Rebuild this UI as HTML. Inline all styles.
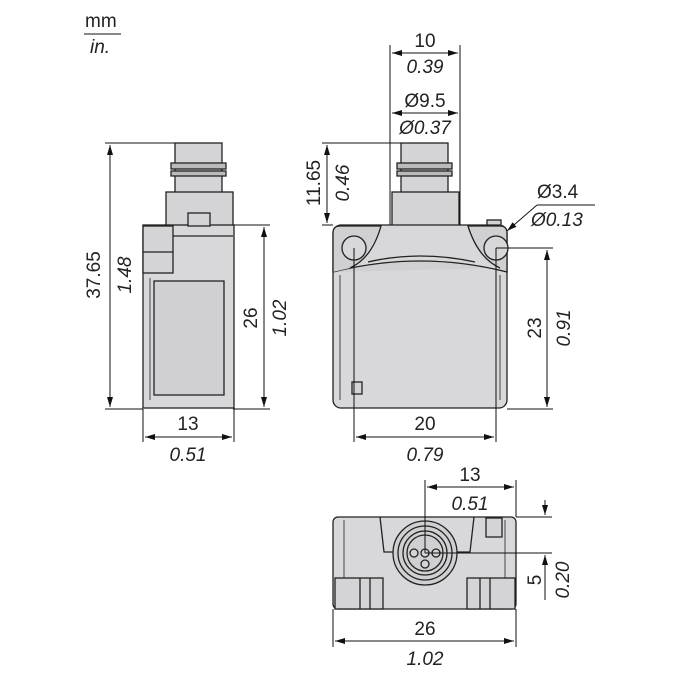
<!DOCTYPE html>
<html><head><style>body{margin:0;background:#fff}svg{display:block}text{font-family:"Liberation Sans",sans-serif;font-size:19px;fill:#222}.i{font-style:italic}</style></head><body>
<svg width="675" height="675" viewBox="0 0 675 675" xmlns="http://www.w3.org/2000/svg">
<defs>
<marker id="a" viewBox="0 0 10 6" refX="10" refY="3" markerWidth="10" markerHeight="6" orient="auto-start-reverse" markerUnits="userSpaceOnUse"><path d="M0,0L10,3L0,6z" fill="#111"/></marker>
</defs>
<g stroke="#111" stroke-width="1" fill="none">
<line x1="84" y1="34" x2="121" y2="34"/>
</g>
<text x="85" y="27">mm</text><text x="90" y="53" class="i">in.</text>

<g stroke="#222" stroke-width="1.3" fill="#d4d4d6">
<rect x="175" y="143" width="47" height="50"/>
<rect x="171" y="163" width="55" height="6" fill="#bbb"/>
<rect x="171" y="171" width="55" height="5" fill="#bbb"/>
<rect x="166" y="192" width="67" height="34"/>
<rect x="143" y="225" width="91" height="183" fill="#d8d8da"/>
<rect x="188" y="213" width="22" height="13"/>
<rect x="143" y="226" width="30" height="47"/>
<line x1="143" y1="252" x2="173" y2="252"/>
<rect x="154" y="281" width="70" height="114" fill="#d0d0d2"/>
<line x1="150" y1="278" x2="150" y2="400" stroke-width="0.8"/>
<line x1="173" y1="236" x2="233" y2="236"/>
</g>
<g stroke="#111" stroke-width="1" fill="none">
<line x1="105" y1="143" x2="175" y2="143"/>
<line x1="105" y1="409" x2="143" y2="409"/>
<line x1="110" y1="145" x2="110" y2="407" marker-start="url(#a)" marker-end="url(#a)"/>
<line x1="233" y1="225" x2="270" y2="225"/>
<line x1="233" y1="409" x2="270" y2="409"/>
<line x1="264" y1="227" x2="264" y2="407" marker-start="url(#a)" marker-end="url(#a)"/>
<line x1="143" y1="409" x2="143" y2="442"/>
<line x1="234" y1="409" x2="234" y2="442"/>
<line x1="145" y1="437" x2="232" y2="437" marker-start="url(#a)" marker-end="url(#a)"/>
</g>
<text transform="translate(100,275) rotate(-90)" text-anchor="middle">37.65</text>
<text transform="translate(131,275) rotate(-90)" text-anchor="middle" class="i">1.48</text>
<text transform="translate(257,318) rotate(-90)" text-anchor="middle">26</text>
<text transform="translate(286,318) rotate(-90)" text-anchor="middle" class="i">1.02</text>
<text x="188" y="430" text-anchor="middle">13</text>
<text x="188" y="461" text-anchor="middle" class="i">0.51</text>

<g stroke="#222" stroke-width="1.3" fill="#d4d4d6">
<rect x="401" y="143" width="47" height="50"/>
<rect x="397" y="163" width="55" height="6" fill="#bbb"/>
<rect x="397" y="171" width="55" height="5" fill="#bbb"/>
<rect x="392" y="192" width="67" height="34"/>
<rect x="487" y="220" width="14" height="7"/>
<rect x="333" y="225" width="174" height="183" rx="8" fill="#d8d8da"/>
<path d="M333,272 Q420,250 507,272 L507,233 Q507,226 500,226 L468,226 Q478,258 500,268" fill="#d0d0d2"/>
<path d="M333,272 L333,233 Q333,226 340,226 L381,226 Q372,258 350,268" fill="#d0d0d2"/>
<path d="M368,262 Q420,250 475,262" fill="none"/>
<circle cx="354" cy="248" r="12" fill="#d8d8da"/>
<circle cx="496" cy="248" r="12" fill="#d8d8da"/>
<line x1="340" y1="275" x2="340" y2="400" stroke-width="0.8"/>
<line x1="500" y1="275" x2="500" y2="400" stroke-width="0.8"/>
<rect x="352" y="382" width="10" height="12"/>
</g>
<g stroke="#111" stroke-width="1" fill="none">
<line x1="390" y1="45" x2="390" y2="225"/>
<line x1="460" y1="45" x2="460" y2="225"/>
<line x1="392" y1="53" x2="458" y2="53" marker-start="url(#a)" marker-end="url(#a)"/>
<line x1="392" y1="113" x2="458" y2="113" marker-start="url(#a)" marker-end="url(#a)"/>
<line x1="322" y1="143" x2="401" y2="143"/>
<line x1="322" y1="225" x2="333" y2="225"/>
<line x1="327" y1="145" x2="327" y2="223" marker-start="url(#a)" marker-end="url(#a)"/>
<line x1="507" y1="231" x2="537" y2="205" marker-start="url(#a)"/>
<line x1="537" y1="205" x2="595" y2="205"/>
<line x1="496" y1="248" x2="553" y2="248"/>
<line x1="507" y1="409" x2="553" y2="409"/>
<line x1="547" y1="250" x2="547" y2="407" marker-start="url(#a)" marker-end="url(#a)"/>
<line x1="354" y1="248" x2="354" y2="442"/>
<line x1="496" y1="248" x2="496" y2="442"/>
<line x1="356" y1="437" x2="494" y2="437" marker-start="url(#a)" marker-end="url(#a)"/>
</g>
<text x="425" y="47" text-anchor="middle">10</text>
<text x="425" y="73" text-anchor="middle" class="i">0.39</text>
<text x="425" y="107" text-anchor="middle">Ø9.5</text>
<text x="425" y="134" text-anchor="middle" class="i">Ø0.37</text>
<text transform="translate(320,183) rotate(-90)" text-anchor="middle">11.65</text>
<text transform="translate(349,183) rotate(-90)" text-anchor="middle" class="i">0.46</text>
<text x="537" y="198">Ø3.4</text>
<text x="531" y="226" class="i">Ø0.13</text>
<text transform="translate(541,328) rotate(-90)" text-anchor="middle">23</text>
<text transform="translate(570,328) rotate(-90)" text-anchor="middle" class="i">0.91</text>
<text x="425" y="430" text-anchor="middle">20</text>
<text x="425" y="461" text-anchor="middle" class="i">0.79</text>

<g stroke="#222" stroke-width="1.3" fill="#d4d4d6">
<rect x="333" y="517" width="183" height="92" rx="5" fill="#d8d8da"/>
<path d="M380,517 L384,552 L470,552 L474,517" fill="none"/>
<rect x="486" y="518" width="16" height="19"/>
<rect x="335" y="578" width="48" height="31"/>
<rect x="467" y="578" width="48" height="31"/>
<line x1="360" y1="578" x2="360" y2="609"/><line x1="370" y1="578" x2="370" y2="609"/>
<line x1="480" y1="578" x2="480" y2="609"/><line x1="490" y1="578" x2="490" y2="609"/>
<line x1="344" y1="520" x2="344" y2="578" stroke-width="0.8"/>
<line x1="505" y1="520" x2="505" y2="578" stroke-width="0.8"/>
<circle cx="425" cy="553" r="32" fill="#d0d0d2"/>
<circle cx="425" cy="553" r="27" fill="none"/>
<circle cx="425" cy="553" r="22" fill="none"/>
<circle cx="425" cy="553" r="18" fill="none"/>
<circle cx="425" cy="553" r="4"/>
<circle cx="414" cy="553" r="4"/>
<circle cx="436" cy="553" r="4"/>
<circle cx="425" cy="564" r="4"/>
</g>
<g stroke="#111" stroke-width="1" fill="none">
<line x1="425" y1="480" x2="425" y2="553"/>
<line x1="516" y1="480" x2="516" y2="517"/>
<line x1="427" y1="487" x2="514" y2="487" marker-start="url(#a)" marker-end="url(#a)"/>
<line x1="516" y1="517" x2="552" y2="517"/>
<line x1="425" y1="553" x2="552" y2="553"/>
<line x1="545" y1="500" x2="545" y2="515" marker-end="url(#a)"/>
<line x1="545" y1="600" x2="545" y2="555" marker-end="url(#a)"/>
<line x1="333" y1="609" x2="333" y2="647"/>
<line x1="516" y1="609" x2="516" y2="647"/>
<line x1="335" y1="641" x2="514" y2="641" marker-start="url(#a)" marker-end="url(#a)"/>
</g>
<text x="470" y="481" text-anchor="middle">13</text>
<text x="470" y="510" text-anchor="middle" class="i">0.51</text>
<text transform="translate(541,580) rotate(-90)" text-anchor="middle">5</text>
<text transform="translate(569,580) rotate(-90)" text-anchor="middle" class="i">0.20</text>
<text x="425" y="635" text-anchor="middle">26</text>
<text x="425" y="665" text-anchor="middle" class="i">1.02</text>
</svg>
</body></html>
